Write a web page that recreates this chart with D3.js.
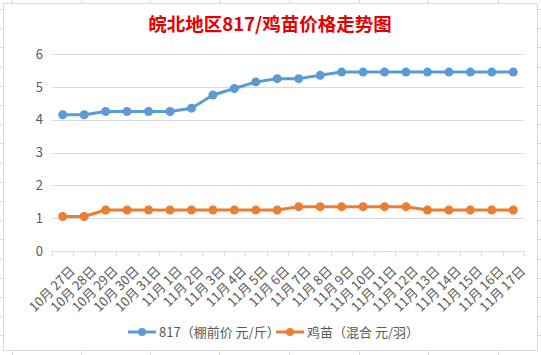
<!DOCTYPE html>
<html><head><meta charset="utf-8">
<script src="https://cdn.jsdelivr.net/npm/d3@7"></script>
<style>
html,body{margin:0;padding:0;background:#fff;}
svg{display:block;font-family:"Microsoft YaHei","Noto Sans CJK SC",sans-serif;}
</style></head>
<body><svg id="c" width="541" height="355"></svg>
<script>
const title = "皖北地区817/鸡苗价格走势图";
const categories = ["10月 27日","10月 28日","10月 29日","10月 30日","10月 31日","11月 1日","11月 2日","11月 3日","11月 4日","11月 5日","11月 6日","11月 7日","11月 8日","11月 9日","11月 10日","11月 11日","11月 12日","11月 13日","11月 14日","11月 15日","11月 16日","11月 17日"];
const seriesNames = ["817（棚前价 元/斤）","鸡苗（混合 元/羽）"];
const price817 = [4.15,4.15,4.25,4.25,4.25,4.25,4.35,4.75,4.95,5.15,5.25,5.25,5.35,5.45,5.45,5.45,5.45,5.45,5.45,5.45,5.45,5.45];
const chickPrice = [1.05,1.05,1.25,1.25,1.25,1.25,1.25,1.25,1.25,1.25,1.25,1.35,1.35,1.35,1.35,1.35,1.35,1.25,1.25,1.25,1.25,1.25];
const yTicks = [0,1,2,3,4,5,6];
const colors = ["#5B9BD5","#ED7D31"];

const svg = d3.select("#c");
const W = 541, H = 355;
const FONT = "\"Microsoft YaHei\",\"Noto Sans CJK SC\",sans-serif";

// Excel sheet grid peeking around the chart
const sheet = svg.append("g").attr("stroke","#d9d9d9").attr("stroke-width",1);
const colXs = [12,81,150,219,289,359,428,498];
colXs.forEach(x=>{
  sheet.append("line").attr("x1",x+0.5).attr("x2",x+0.5).attr("y1",0).attr("y2",3);
  sheet.append("line").attr("x1",x+0.5).attr("x2",x+0.5).attr("y1",351).attr("y2",H);
});
for(let y=9; y<H; y+=19.2){
  const yy = Math.round(y)+0.5;
  sheet.append("line").attr("x1",0).attr("x2",3).attr("y1",yy).attr("y2",yy);
  sheet.append("line").attr("x1",538).attr("x2",W).attr("y1",yy).attr("y2",yy);
}
// chart frame
svg.append("rect").attr("x",3.5).attr("y",3.5).attr("width",534).attr("height",347)
  .attr("fill","#fff").attr("stroke","#d9d9d9");

const m = {left:52, right:524, top:54, bottom:251};
const x = d3.scaleBand().domain(categories).range([m.left,m.right]).padding(0);
const y = d3.scaleLinear().domain([0,6]).range([m.bottom,m.top]);

// title
svg.append("text").attr("x",270).attr("y",31).attr("text-anchor","middle")
  .attr("fill","#e60000").attr("font-weight","bold").attr("font-size",18.5).text(title);

// gridlines
svg.append("g").selectAll("line").data(yTicks.filter(d=>d>0)).join("line")
  .attr("x1",m.left).attr("x2",m.right)
  .attr("y1",d=>Math.round(y(d))+0.5).attr("y2",d=>Math.round(y(d))+0.5)
  .attr("stroke","#d9d9d9");

// y axis labels
const yAxis = d3.axisLeft(y).tickValues(yTicks).tickSize(0).tickPadding(0).tickFormat(d3.format("d"));
const gy = svg.append("g").attr("transform",`translate(${m.left-9},0)`).call(yAxis);
gy.select(".domain").remove();
gy.selectAll("text").attr("font-size",13).attr("fill","#595959").attr("font-family",FONT);

// x axis
const xAxis = d3.axisBottom(x).tickSize(0).tickFormat(d=>d);
const gx = svg.append("g").attr("transform",`translate(0,${Math.round(y(0))+0.5})`).call(xAxis);
gx.select(".domain").attr("stroke","#d9d9d9").attr("d",`M${m.left},0H${m.right}`);
gx.selectAll(".tick line").remove();
// ticks at category boundaries
const bounds = categories.map(c=>x(c)).concat([x(categories[categories.length-1])+x.bandwidth()]);
gx.append("g").selectAll("line").data(bounds).join("line")
  .attr("x1",d=>Math.round(d)+0.5).attr("x2",d=>Math.round(d)+0.5)
  .attr("y1",0).attr("y2",5).attr("stroke","#d9d9d9");
gx.selectAll(".tick text")
  .attr("font-size",13).attr("fill","#595959").attr("font-family",FONT)
  .attr("text-anchor","end")
  .attr("transform",`translate(${x.bandwidth()/2-1},17) rotate(-45)`)
  .attr("y",0).attr("dy","0.35em").attr("x",0);

// lines
const line = d3.line().x((d,i)=>x(categories[i])+x.bandwidth()/2).y(d=>y(d));
[price817, chickPrice].forEach((data,k)=>{
  svg.append("path").datum(data).attr("d",line).attr("fill","none")
    .attr("stroke",colors[k]).attr("stroke-width",3).attr("stroke-linejoin","round");
  svg.append("g").selectAll("circle").data(data).join("circle")
    .attr("cx",(d,i)=>x(categories[i])+x.bandwidth()/2).attr("cy",d=>y(d))
    .attr("r",4.5).attr("fill",colors[k]);
});

// legend
const leg = svg.append("g");
const legItems = [{x:128},{x:276}];
legItems.forEach((it,k)=>{
  const g = leg.append("g").attr("transform",`translate(${it.x},332)`);
  g.append("line").attr("x1",0).attr("x2",28).attr("y1",0).attr("y2",0)
    .attr("stroke",colors[k]).attr("stroke-width",3);
  g.append("circle").attr("cx",14).attr("cy",0).attr("r",4).attr("fill",colors[k]);
  g.append("text").attr("x",31).attr("y",0).attr("dy","0.35em")
    .attr("font-size",13).attr("fill","#595959").text(seriesNames[k]);
});
</script></body></html>
